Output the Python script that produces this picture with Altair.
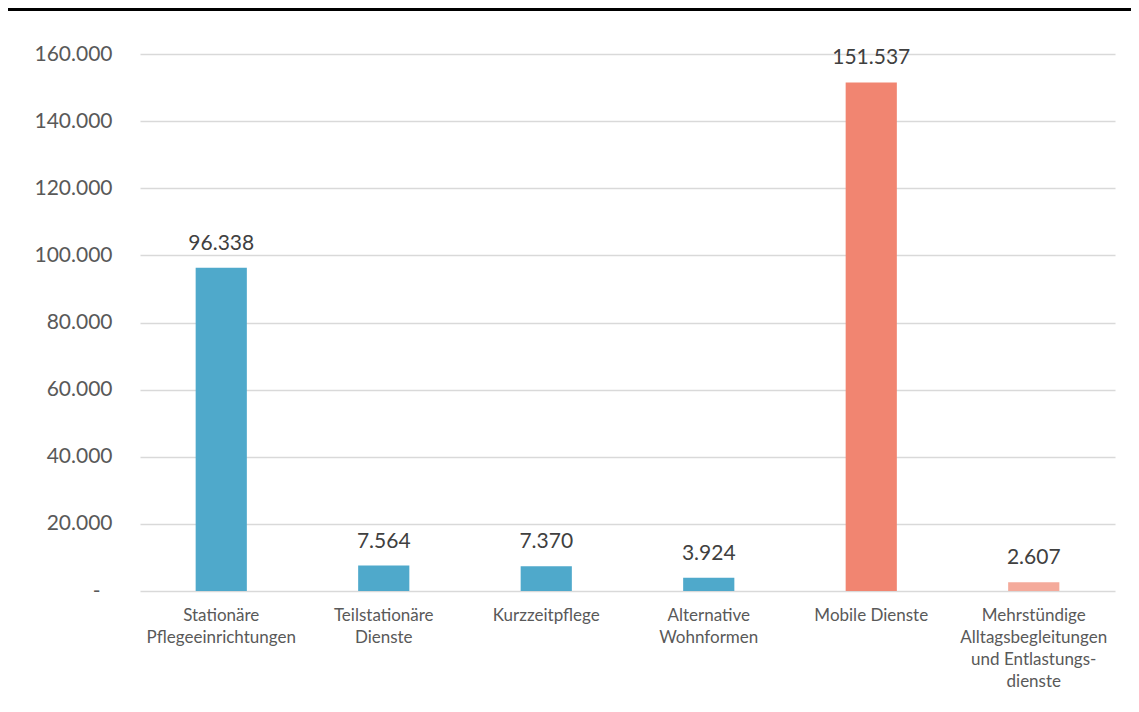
import altair as alt
import pandas as pd

categories = [
    "Stationäre\nPflegeeinrichtungen",
    "Teilstationäre\nDienste",
    "Kurzzeitpflege",
    "Alternative\nWohnformen",
    "Mobile Dienste",
    "Mehrstündige\nAlltagsbegleitungen\nund Entlastungs-\ndienste",
]
values = [96338, 7564, 7370, 3924, 151537, 2607]
labels = ["96.338", "7.564", "7.370", "3.924", "151.537", "2.607"]
colors = ["#4FA9CB", "#4FA9CB", "#4FA9CB", "#4FA9CB", "#F18571", "#F4AA9B"]

df = pd.DataFrame({"cat": categories, "val": values, "lab": labels, "col": colors})

FONT = "Lato"

x = alt.X(
    "cat:N",
    sort=categories,
    scale=alt.Scale(paddingInner=0.685, paddingOuter=0.3425),
    axis=alt.Axis(
        title=None,
        labelAngle=0,
        labelExpr="split(datum.label, '\\n')",
        labelFont=FONT,
        labelFontSize=17,
        labelColor="#595959",
        labelLineHeight=22,
        labelPadding=24,
        labelBaseline="middle",
        domain=False,
        ticks=False,
        grid=False,
    ),
)

y = alt.Y(
    "val:Q",
    scale=alt.Scale(domain=[0, 160000], nice=False),
    axis=alt.Axis(
        title=None,
        values=[0, 20000, 40000, 60000, 80000, 100000, 120000, 140000, 160000],
        labelExpr="datum.value == 0 ? '-' : replace(format(datum.value, ',.0f'), ',', '.')",
        labelFont=FONT,
        labelFontSize=21,
        labelColor="#595959",
        labelPadding={"condition": {"test": "datum.value == 0", "value": 40}, "value": 28},
        domain=False,
        ticks=False,
        grid=True,
        gridColor="#D9D9D9",
        gridWidth=1.5,
    ),
)

bars = alt.Chart(df).mark_bar().encode(
    x=x, y=y, color=alt.Color("col:N", scale=None)
)

text = alt.Chart(df).mark_text(
    baseline="alphabetic", dy=-18, font=FONT, fontSize=21, color="#404040"
).encode(
    x=alt.X("cat:N", sort=categories),
    y=alt.Y("val:Q"),
    text="lab:N",
)

topline = alt.Chart(df).mark_rule(color="black", strokeWidth=3).encode(
    x=alt.value(-133), x2=alt.value(1000), y=alt.value(-44.5)
)

chart = (
    alt.layer(bars, text, topline)
    .properties(
        width=975,
        height=537,
        padding={"left": 132, "top": 46, "right": 16, "bottom": 100},
        autosize=alt.AutoSizeParams(type="none"),
        background="white",
    )
    .configure_view(strokeWidth=0, stroke="transparent")
)

chart.save("out.html", embed_options={"renderer": "svg", "actions": False})
